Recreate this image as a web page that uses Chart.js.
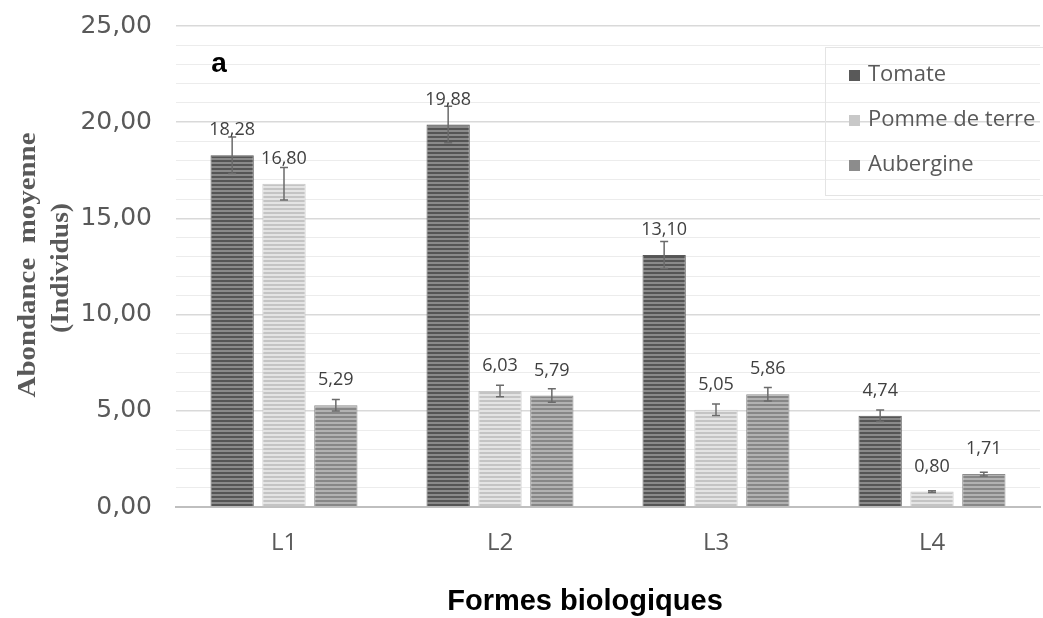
<!DOCTYPE html>
<html>
<head>
<meta charset="utf-8">
<script src="https://cdn.jsdelivr.net/npm/chart.js@4.4.0/dist/chart.umd.min.js"></script>
<style>
	html, body { margin: 0; padding: 0; background: #fff; }
	#wrap { width: 1043px; height: 618px; position: relative; }
</style>
</head>
<body>
<div id="wrap"><canvas id="chart" width="1043" height="618"></canvas></div>
<script>
const categories = ["L1", "L2", "L3", "L4"]
const seriesNames = ["Tomate", "Pomme de terre", "Aubergine"]
const tomate = [18.28, 19.88, 13.10, 4.74]
const pomme = [16.80, 6.03, 5.05, 0.80]
const aubergine = [5.29, 5.79, 5.86, 1.71]
const tomateErr = [0.95, 0.95, 0.7, 0.3]
const pommeErr = [0.85, 0.3, 0.3, 0.05]
const aubergineErr = [0.3, 0.35, 0.35, 0.1]

const stripes = (dark, light) => {
	const c = document.createElement("canvas")
	c.width = 4
	c.height = 4
	const g = c.getContext("2d")
	g.fillStyle = light
	g.fillRect(0, 0, 4, 4)
	g.fillStyle = dark
	g.fillRect(0, 0, 4, 2)
	return g.createPattern(c, "repeat")
}
const ctx = document.getElementById("chart").getContext("2d")
const fmt = v => v.toFixed(2).replace(".", ",")

// draws text squeezed/stretched to a given width
const fitText = (g, text, x, y, width) => {
	const w = g.measureText(text).width
	g.save()
	g.translate(x, y)
	g.scale(width / w, 1)
	g.fillText(text, 0, 0)
	g.restore()
}

const errorBars = {
	id: "errorBars",
	afterDatasetsDraw(chart) {
		const g = chart.ctx
		const y = chart.scales.y
		chart.data.datasets.forEach((ds, i) => {
			chart.getDatasetMeta(i).data.forEach((bar, j) => {
				const v = ds.data[j], e = ds.errors[j]
				const top = y.getPixelForValue(v + e), bot = y.getPixelForValue(v - e)
				g.save()
				g.strokeStyle = "#6b6b6b"
				g.lineWidth = 1.5
				g.beginPath()
				g.moveTo(bar.x, top); g.lineTo(bar.x, bot)
				g.moveTo(bar.x - 4, top); g.lineTo(bar.x + 4, top)
				g.moveTo(bar.x - 4, bot); g.lineTo(bar.x + 4, bot)
				g.stroke()
				g.fillStyle = "#404040"
				g.font = "18px 'Open Sans'"
				g.textAlign = "center"
				g.textBaseline = "middle"
				g.fillText(fmt(v), bar.x, bar.y - 25)
				g.restore()
			})
		})
	}
}

const extras = {
	id: "extras",
	afterDraw(chart) {
		const g = chart.ctx
		g.save()
		// y axis title, two lines, rotated
		g.fillStyle = "#595959"
		g.font = "bold 26px 'Liberation Serif'"
		g.textAlign = "center"
		g.textBaseline = "middle"
		g.rotate(-Math.PI / 2)
		fitText(g, "Abondance  moyenne", -265, 28, 265)
		fitText(g, "(Individus)", -268, 61, 130)
		g.restore()

		g.save()
		g.fillStyle = "#000"
		g.font = "bold 29px 'Liberation Sans'"
		g.textAlign = "center"
		g.textBaseline = "middle"
		g.fillText("Formes biologiques", 585, 602)
		g.font = "bold 28px 'Liberation Sans'"
		g.fillText("a", 219, 64)

		// legend
		g.strokeStyle = "#e4e4e4"
		g.lineWidth = 1
		g.strokeRect(825.5, 47.5, 220, 148)
		const colors = ["#595959", "#c8c8c8", "#8c8c8c"]
		g.font = "22px 'Open Sans'"
		g.textAlign = "left"
		seriesNames.forEach((n, i) => {
			const yy = 75 + i * 45
			g.fillStyle = colors[i]
			g.fillRect(849, yy - 5, 11, 11)
			g.fillStyle = "#595959"
			g.fillText(n, 868, yy)
		})
		g.restore()
	}
}

new Chart(ctx, {
	type: "bar",
	data: {
		labels: categories,
		datasets: [
			{ label: seriesNames[0], data: tomate, errors: tomateErr, backgroundColor: stripes("#555555", "#8a8a8a"), borderColor: "#5a5a5a", borderWidth: 1 },
			{ label: seriesNames[1], data: pomme, errors: pommeErr, backgroundColor: stripes("#c4c4c4", "#e4e4e4"), borderColor: "#c8c8c8", borderWidth: 1 },
			{ label: seriesNames[2], data: aubergine, errors: aubergineErr, backgroundColor: stripes("#878787", "#b2b2b2"), borderColor: "#8c8c8c", borderWidth: 1 }
		]
	},
	options: {
		responsive: false,
		animation: false,
		categoryPercentage: 0.72,
		barPercentage: 0.835,
		layout: { padding: { top: 26, right: 3, left: 0, bottom: 0 } },
		plugins: { legend: { display: false }, tooltip: { enabled: false } },
		scales: {
			x: {
				grid: { display: false, drawTicks: false },
				border: { color: "#bfbfbf", width: 2 },
				ticks: { color: "#595959", font: { size: 24, family: "'Open Sans'" }, padding: 22 },
				afterFit: s => { s.height = 111 }
			},
			y: {
				min: 0,
				max: 25,
				grid: {
					drawTicks: false,
					color: c => c.tick.value % 5 == 0 ? "#d9d9d9" : "#ececec",
					lineWidth: c => c.tick.value % 5 == 0 ? 1.5 : 1
				},
				border: { display: false },
				ticks: {
					stepSize: 1,
					autoSkip: false,
					padding: 24,
					color: "#595959",
					font: { size: 25, family: "'DejaVu Sans'" },
					callback: v => v % 5 == 0 ? fmt(v) : ""
				},
				afterFit: s => {
					s.width = 176
					s.paddingTop = 0
					s.paddingBottom = 0
				}
			}
		}
	},
	plugins: [errorBars, extras]
})
</script>
</body>
</html>
